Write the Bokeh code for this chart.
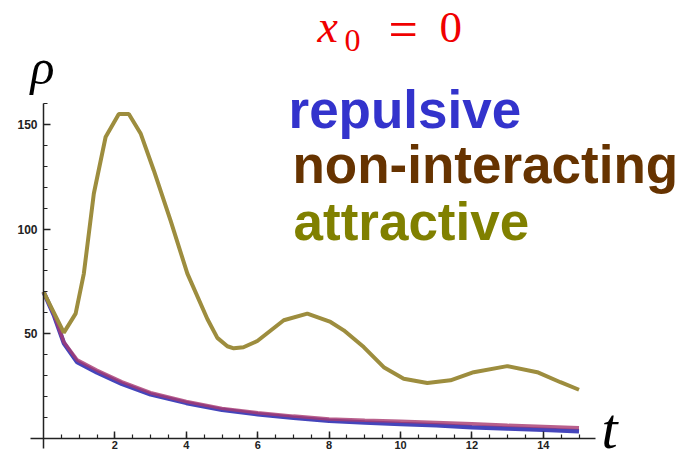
from bokeh.plotting import figure
from bokeh.models import LinearAxis, FixedTicker, Label
from bokeh.embed import file_html
from bokeh.resources import INLINE

# ---- data ----
t_attr = [0, 0.57, 0.90, 1.13, 1.41, 1.74, 2.11, 2.39, 2.72, 3.09, 3.56, 4.03, 4.59, 4.87,
          5.15, 5.33, 5.6, 5.99, 6.73, 7.39, 8.04, 8.41, 8.97, 9.53, 10.09, 10.75, 11.40,
          12.05, 12.99, 13.83, 14.48, 15.0]
v_attr = [70, 50.5, 59.6, 78.7, 117, 144, 155, 155, 145.7, 128, 104, 78.7, 57, 48,
          44, 43, 43.5, 46.5, 56.4, 59.6, 55.6, 51.6, 43.6, 34, 28.5, 26.4, 27.7,
          31.6, 34.5, 31.6, 26.8, 23.2]

t_int = [0, 0.3, 0.57, 0.94, 1.5, 2.2, 3.0, 4.0, 5.0, 6.0, 7.0, 8.0, 9.0, 10.0, 11.0,
         12.0, 13.0, 14.0, 15.0]
v_rep = [70, 58.5, 45.5, 36.5, 31.5, 26.0, 21.0, 16.9, 13.6, 11.5, 9.8, 8.4, 7.5, 6.8,
         6.2, 5.3, 4.7, 4.1, 3.4]
v_non = [70, 59.0, 46.0, 37.5, 32.5, 27.0, 21.8, 17.6, 14.3, 12.2, 10.6, 9.2, 8.6, 8.1,
         7.6, 6.9, 6.2, 5.6, 5.0]

x_major = [2, 4, 6, 8, 10, 12, 14]
x_minor = [i * 0.5 for i in range(1, 31)]
y_major = [50, 100, 150]
y_minor = [10 * i for i in range(1, 17)]
x_axis_bounds = (-0.37, 15.45)
y_axis_bounds = (-5, 160)

W, H = 687, 455
p = figure(width=W, height=H, x_range=(-1.2045, 18.039), y_range=(-8.22, 209.22),
           x_axis_type=None, y_axis_type=None, output_backend="svg",
           toolbar_location=None, min_border=0)
p.outline_line_color = None
p.grid.visible = False
p.background_fill_color = "white"
p.border_fill_color = "white"

p.line(t_int, v_rep, line_color="#4545bb", line_width=4.5)
p.line(t_int, v_non, line_color="#a8386f", line_width=3.5, line_alpha=0.8)
p.line(t_attr, v_attr, line_color="#9d8d3e", line_width=4)

def style(ax, size):
    ax.axis_line_color = "#222222"
    ax.axis_line_width = 1.5
    ax.major_tick_in = 7
    ax.major_tick_out = 0
    ax.minor_tick_in = 4
    ax.minor_tick_out = 0
    ax.major_tick_line_color = "#222222"
    ax.minor_tick_line_color = "#222222"
    ax.major_tick_line_width = 1.5
    ax.minor_tick_line_width = 1.2
    ax.major_label_text_font = "Liberation Sans"
    ax.major_label_text_font_style = "bold"
    ax.major_label_text_font_size = size
    ax.major_label_text_color = "#222222"

xa = LinearAxis(fixed_location=0, bounds=x_axis_bounds,
                ticker=FixedTicker(ticks=x_major, minor_ticks=x_minor))
style(xa, "11px")
xa.major_label_standoff = 3
p.add_layout(xa, "below")

ya = LinearAxis(fixed_location=0, bounds=y_axis_bounds,
                ticker=FixedTicker(ticks=y_major, minor_ticks=y_minor))
style(ya, "12px")
ya.major_label_standoff = 6
p.add_layout(ya, "left")

def lab(text, px, py, size, color, font="Liberation Sans", style="normal"):
    # px, py: pixel position from the top-left of the canvas
    p.add_layout(Label(x=px, y=H - py, x_units="screen", y_units="screen", text=text,
                       text_font=font, text_font_size=size, text_font_style=style,
                       text_color=color, text_baseline="alphabetic", text_align="left"))

lab("repulsive", 288, 109, "53px", "#3333cc", style="bold")
lab("non-interacting", 292, 164, "53px", "#663300", style="bold")
lab("attractive", 293, 221, "53px", "#808000", style="bold")

lab("x", 317, 25.5, "46px", "#f00000", font="Liberation Serif", style="italic")
lab("0", 344, 40, "32px", "#f00000", font="Liberation Serif")
lab("=", 388, 28.5, "52px", "#f00000", font="Liberation Serif")
lab("0", 439, 27, "45px", "#f00000", font="Liberation Serif")

lab("ρ", 30, 66, "50px", "black", font="Liberation Serif", style="italic")
lab("t", 601, 428, "58px", "black", font="Liberation Serif", style="italic")

open("out.html", "w").write(file_html(p, INLINE))
